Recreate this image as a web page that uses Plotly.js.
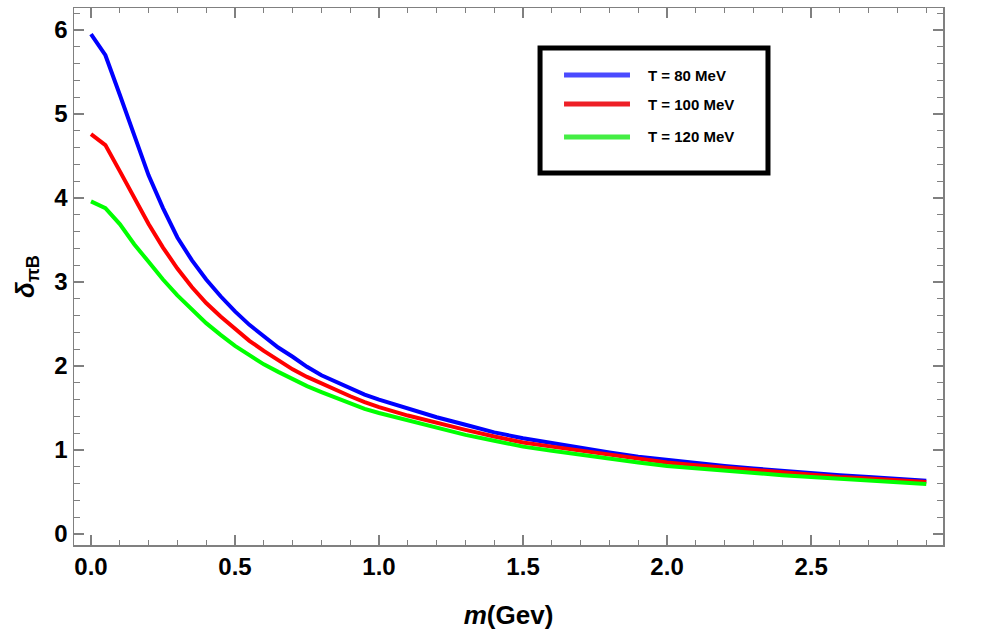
<!DOCTYPE html>
<html>
<head>
<meta charset="utf-8">
<script src="https://cdn.plot.ly/plotly-3.0.1.min.js"></script>
<style>
  body { margin: 0; background: #fff; }
  #chart { width: 999px; height: 640px; }
</style>
</head>
<body>
<div id="chart"></div>
<script>
// mass values (GeV)
const mass = [0, 0.05, 0.1, 0.15, 0.2, 0.25, 0.3, 0.35, 0.4, 0.45, 0.5, 0.55, 0.6, 0.65, 0.7,
  0.75, 0.8, 0.85, 0.9, 0.95, 1.0, 1.1, 1.2, 1.3, 1.4, 1.5, 1.6, 1.7, 1.8, 1.9, 2.0,
  2.1, 2.2, 2.3, 2.4, 2.5, 2.6, 2.7, 2.8, 2.9];

// delta_piB
const t80 = [5.95, 5.70, 5.23, 4.74, 4.27, 3.88, 3.53, 3.26, 3.03, 2.83, 2.65, 2.49, 2.35, 2.22, 2.11,
  1.99, 1.89, 1.81, 1.73, 1.66, 1.60, 1.49, 1.39, 1.30, 1.21, 1.14, 1.08, 1.02, 0.97, 0.92, 0.88,
  0.85, 0.81, 0.78, 0.75, 0.72, 0.70, 0.68, 0.655, 0.635];
const t100 = [4.76, 4.63, 4.32, 4.00, 3.69, 3.41, 3.16, 2.94, 2.75, 2.59, 2.44, 2.30, 2.18, 2.07, 1.96,
  1.87, 1.79, 1.71, 1.64, 1.57, 1.51, 1.41, 1.32, 1.24, 1.16, 1.09, 1.04, 0.99, 0.94, 0.89, 0.85,
  0.82, 0.79, 0.76, 0.73, 0.71, 0.68, 0.66, 0.64, 0.62];
const t120 = [3.96, 3.88, 3.69, 3.45, 3.24, 3.03, 2.84, 2.67, 2.51, 2.37, 2.24, 2.13, 2.02, 1.93, 1.84,
  1.76, 1.69, 1.62, 1.55, 1.49, 1.44, 1.35, 1.26, 1.18, 1.11, 1.04, 0.99, 0.94, 0.90, 0.85, 0.81,
  0.78, 0.75, 0.73, 0.70, 0.68, 0.66, 0.64, 0.615, 0.595];

const names = ["T = 80 MeV", "T = 100 MeV", "T = 120 MeV"];
const lineColors = ["#0000ff", "#ff0000", "#00ff00"];
const keyColors = ["#4a4aff", "#ee1f26", "#44ee44"];

const series = [t80, t100, t120];
const traces = series.map((ys, i) => ({
  x: mass,
  y: ys,
  type: "scatter",
  mode: "lines",
  name: names[i],
  line: { color: lineColors[i], width: 4 },
  showlegend: false
}));

// hand made key box, like the original
const keyY = [0.8752, 0.8212, 0.7598];
const shapes = [{
  type: "rect", xref: "paper", yref: "paper",
  x0: 0.5363, x1: 0.7986, y0: 0.6927, y1: 0.9255,
  line: { color: "black", width: 5 }, fillcolor: "white"
}];
const annotations = [];
names.forEach((n, i) => {
  shapes.push({
    type: "line", xref: "paper", yref: "paper",
    x0: 0.5639, x1: 0.6398, y0: keyY[i], y1: keyY[i],
    line: { color: keyColors[i], width: 5 }
  });
  annotations.push({
    xref: "paper", yref: "paper", x: 0.6582, y: keyY[i],
    xanchor: "left", yanchor: "middle", showarrow: false,
    text: n,
    font: { family: "Liberation Sans, Arial, sans-serif", size: 15, weight: "bold", color: "black" }
  });
});

const tickFont = { family: "Liberation Sans, Arial, sans-serif", size: 24, weight: "bold", color: "black" };

const layout = {
  width: 999,
  height: 640,
  margin: { l: 74, r: 56, t: 8, b: 95 },
  paper_bgcolor: "white",
  plot_bgcolor: "white",
  xaxis: {
    range: [-0.059, 2.958],
    dtick: 0.5,
    tick0: 0,
    tickformat: ".1f",
    ticks: "inside",
    ticklen: 10,
    tickwidth: 1.5,
    tickcolor: "#808080",
    minor: { dtick: 0.1, ticks: "inside", ticklen: 5, tickwidth: 1.2, tickcolor: "#808080" },
    showline: true,
    linecolor: "#808080",
    linewidth: 1.5,
    mirror: "ticks",
    showgrid: false,
    zeroline: false,
    tickfont: tickFont,
    title: {
      text: "<i>m</i>(Gev)",
      standoff: 26,
      font: { family: "Liberation Sans, Arial, sans-serif", size: 26, weight: "bold", color: "black" }
    }
  },
  yaxis: {
    range: [-0.131, 6.262],
    dtick: 1,
    tick0: 0,
    ticks: "inside",
    ticklen: 10,
    tickwidth: 1.5,
    tickcolor: "#808080",
    minor: { dtick: 0.2, ticks: "inside", ticklen: 6, tickwidth: 1.2, tickcolor: "#808080" },
    showline: true,
    linecolor: "#808080",
    linewidth: 1.5,
    mirror: "ticks",
    showgrid: false,
    zeroline: false,
    tickfont: tickFont,
    title: {
      text: "<i>δ</i><sub>πB</sub>",
      standoff: 12,
      font: { family: "Liberation Sans, Arial, sans-serif", size: 26, weight: "bold", color: "black" }
    }
  },
  shapes: shapes,
  annotations: annotations
};

Plotly.newPlot("chart", traces, layout, { displayModeBar: false, staticPlot: true });
</script>
</body>
</html>
